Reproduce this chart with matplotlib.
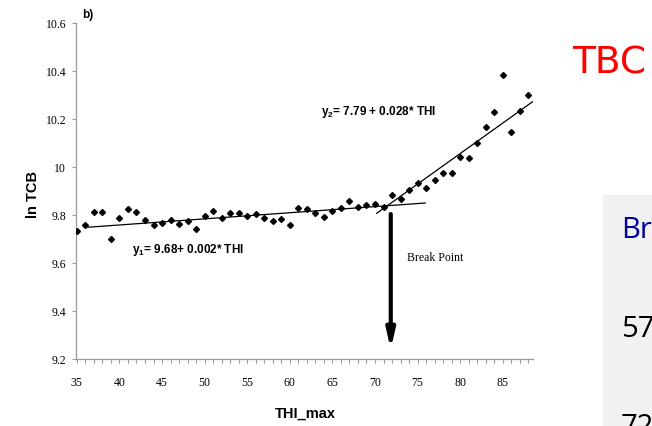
import matplotlib
matplotlib.use("Agg")
import matplotlib.pyplot as plt
from matplotlib.patches import Rectangle

# ---- data ----
thi = list(range(35, 89))
ln_tcb = [9.732, 9.760, 9.814, 9.814, 9.700, 9.786, 9.826, 9.814, 9.779, 9.760,
          9.765, 9.779, 9.763, 9.774, 9.743, 9.795, 9.818, 9.787, 9.810, 9.807,
          9.797, 9.805, 9.786, 9.774, 9.783, 9.760, 9.830, 9.824, 9.810, 9.793,
          9.818, 9.829, 9.857, 9.832, 9.842, 9.846, 9.833, 9.883, 9.868, 9.905,
          9.932, 9.911, 9.947, 9.974, 9.974, 10.040, 10.037, 10.100, 10.165, 10.228,
          10.383, 10.146, 10.235, 10.299]

line1_x = [36.3, 75.9]
line1_y = [9.749, 9.850]
line2_x = [70.2, 88.5]
line2_y = [9.807, 10.272]

break_x = 71.85
arrow_y = [9.804, 9.240]

xticks = [35, 40, 45, 50, 55, 60, 65, 70, 75, 80, 85]
yticks = [9.2, 9.4, 9.6, 9.8, 10.0, 10.2, 10.4, 10.6]
ytick_labels = ["9.2", "9.4", "9.6", "9.8", "10", "10.2", "10.4", "10.6"]

W, H = 652, 427
fig = plt.figure(figsize=(W / 100, H / 100), dpi=100)
ax = fig.add_axes([76 / W, 1 - 360 / H, (533 - 76) / W, 336 / H])

ax.plot(thi, ln_tcb, linestyle="none", marker="D", markersize=3.0,
        color="black", zorder=3)
ax.plot(line1_x, line1_y, color="black", linewidth=0.9)
ax.plot(line2_x, line2_y, color="black", linewidth=0.9)

ax.annotate("", xy=(break_x, arrow_y[1]), xytext=(break_x, arrow_y[0]),
            arrowprops=dict(arrowstyle="-|>,head_length=1.1,head_width=0.25",
                            color="black", linewidth=3.0, shrinkA=0, shrinkB=0))

ax.set_xlim(34.9, 88.55)
ax.set_ylim(9.2, 10.6)

serif = "Liberation Serif"
sans = "Liberation Sans"
ax.set_xticks(xticks)
ax.set_xticks(range(35, 89), minor=True)
ax.set_xticklabels([str(t) for t in xticks], fontfamily=serif, fontsize=8.5)
ax.set_yticks(yticks)
ax.set_yticklabels(ytick_labels, fontfamily=serif, fontsize=8.5)
ax.tick_params(axis="both", which="both", direction="out", length=3,
               color="#9a9a9a", width=0.8, pad=4)
ax.tick_params(axis="x", pad=9)
ax.tick_params(axis="y", pad=4)

for s in ["top", "right"]:
    ax.spines[s].set_visible(False)
for s in ["left", "bottom"]:
    ax.spines[s].set_color("#9a9a9a")
    ax.spines[s].set_linewidth(0.9)

# texts
fig.text(82 / W, 1 - 15 / H, "b)", fontfamily=sans, fontweight="bold",
         fontsize=8.5, va="center", ha="left")
fig.text(33 / W, 1 - 194 / H, "ln TCB", fontfamily=sans, fontweight="bold",
         fontsize=10.5, rotation=90, va="center", ha="center")
fig.text(305 / W, 1 - 414 / H, "THI_max", fontfamily=sans, fontweight="bold",
         fontsize=10.5, va="center", ha="center")
fig.text(132 / W, 1 - 250 / H, r"y$_\mathregular{1}$= 9.68+ 0.002* THI",
         fontfamily=sans, fontweight="bold", fontsize=8.5, va="center", ha="left")
fig.text(321 / W, 1 - 112 / H, r"y$_\mathregular{2}$= 7.79 + 0.028* THI",
         fontfamily=sans, fontweight="bold", fontsize=8.5, va="center", ha="left")
fig.text(407 / W, 1 - 258 / H, "Break Point", fontfamily=serif,
         fontsize=8.5, va="center", ha="left")

# right side panel
fig.text(572 / W, 1 - 64 / H, "TBC", color="#ff0000", fontfamily="DejaVu Sans",
         fontsize=27, va="center", ha="left")
fig.patches.append(Rectangle((603 / W, 0), (W - 603) / W, (H - 196) / H,
                             transform=fig.transFigure, facecolor="#f1f1f1",
                             edgecolor="none", zorder=0))
fig.text(621 / W, 1 - 231 / H, "Br", color="#000099", fontfamily="Open Sans",
         fontsize=21, va="center", ha="left")
fig.text(621 / W, 1 - 330 / H, "57", color="black", fontfamily="Open Sans",
         fontsize=21, va="center", ha="left")
fig.text(621 / W, 1 - 413 / H, "72", color="black", fontfamily="Open Sans",
         fontsize=21, va="top", ha="left")

fig.savefig("out.png", dpi=100)
